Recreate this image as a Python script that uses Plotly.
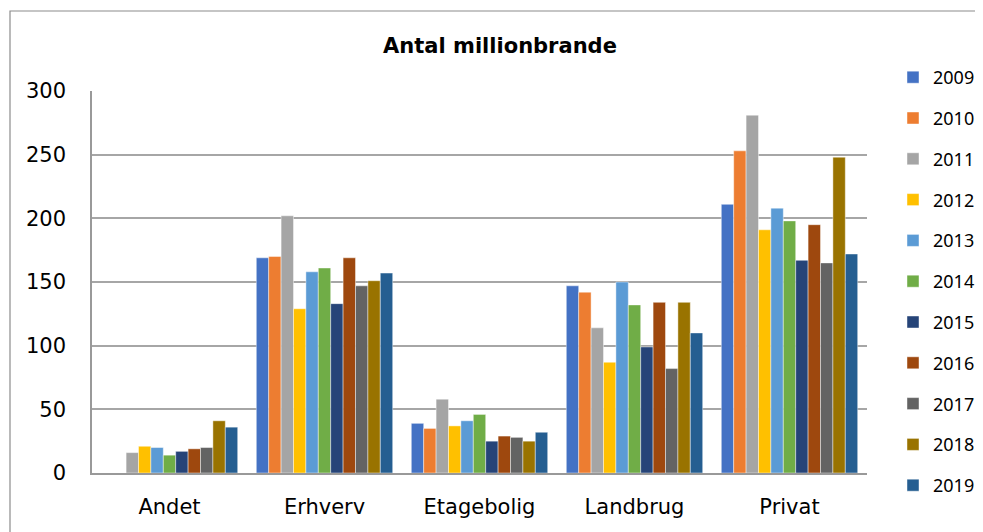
import plotly.graph_objects as go

categories = ["Andet", "Erhverv", "Etagebolig", "Landbrug", "Privat"]
years = ["2009", "2010", "2011", "2012", "2013", "2014", "2015", "2016", "2017", "2018", "2019"]
v2009 = [0, 169, 39, 147, 211]
v2010 = [0, 170, 35, 142, 253]
v2011 = [16, 202, 58, 114, 281]
v2012 = [21, 129, 37, 87, 191]
v2013 = [20, 158, 41, 150, 208]
v2014 = [14, 161, 46, 132, 198]
v2015 = [17, 133, 25, 99, 167]
v2016 = [19, 169, 29, 134, 195]
v2017 = [20, 147, 28, 82, 165]
v2018 = [41, 151, 25, 134, 248]
v2019 = [36, 157, 32, 110, 172]
series = [v2009, v2010, v2011, v2012, v2013, v2014, v2015, v2016, v2017, v2018, v2019]
colors = ["#4472C4", "#ED7D31", "#A5A5A5", "#FFC000", "#5B9BD5", "#70AD47",
          "#264478", "#9E480E", "#636363", "#997300", "#255E91"]
y_ticks = [0, 50, 100, 150, 200, 250, 300]

fig = go.Figure()
for yr, vals, col in zip(years, series, colors):
    fig.add_trace(go.Bar(
        x=categories, y=vals, name=yr, legendgroup=yr,
        marker=dict(color=col, line=dict(color="rgba(255,255,255,0.55)", width=0.8)),
    ))

# page has an 8px body margin, so figure coordinates = page coordinates - 8
OFF = 8
W, H = 983 - OFF, 532 - OFF
L, R, T, B = 92 - OFF, 867 - OFF, 91 - OFF, 473 - OFF

fig.update_layout(
    width=W, height=H,
    margin=dict(l=L, r=W - R, t=T, b=H - B, autoexpand=False),
    plot_bgcolor="white", paper_bgcolor="white",
    barmode="group", bargap=0.12, bargroupgap=0,
    title=dict(text="<b>Antal millionbrande</b>", x=(500 - OFF) / W, y=1 - (46 - OFF) / H,
               xanchor="center", yanchor="middle",
               font=dict(family="DejaVu Sans", size=21, color="#000000")),
    legend=dict(x=(893 - OFF - L) / (R - L), y=(B - (59 - OFF)) / (B - T),
                xanchor="left", yanchor="top", maxheight=480,
                font=dict(family="Noto Sans", size=18, color="#000000"),
                tracegroupgap=14.4, traceorder="grouped", bgcolor="rgba(0,0,0,0)"),
    xaxis=dict(showgrid=False, showline=True, linecolor="#999999", linewidth=1.5,
               ticks="", tickfont=dict(family="DejaVu Sans", size=21, color="#000000"),
               ticklabelstandoff=14),
    yaxis=dict(range=[0, 300], tickvals=y_ticks, showgrid=True, gridcolor="#a6a6a6",
               gridwidth=1.5, showline=True, linecolor="#999999", linewidth=1.5,
               zeroline=False, ticks="",
               tickfont=dict(family="DejaVu Sans", size=21, color="#000000"),
               ticklabelstandoff=20),
    font=dict(family="DejaVu Sans"),
    showlegend=True,
)

# outer chart frame
fig.add_shape(type="rect", xref="paper", yref="paper",
              x0=(10 - OFF - L) / (R - L), x1=(1000 - OFF - L) / (R - L),
              y0=(B - 560) / (B - T), y1=(B - (11 - OFF)) / (B - T),
              line=dict(color="#8c8c8c", width=1.2), fillcolor="rgba(0,0,0,0)", layer="below")

fig.write_html("out.html")
